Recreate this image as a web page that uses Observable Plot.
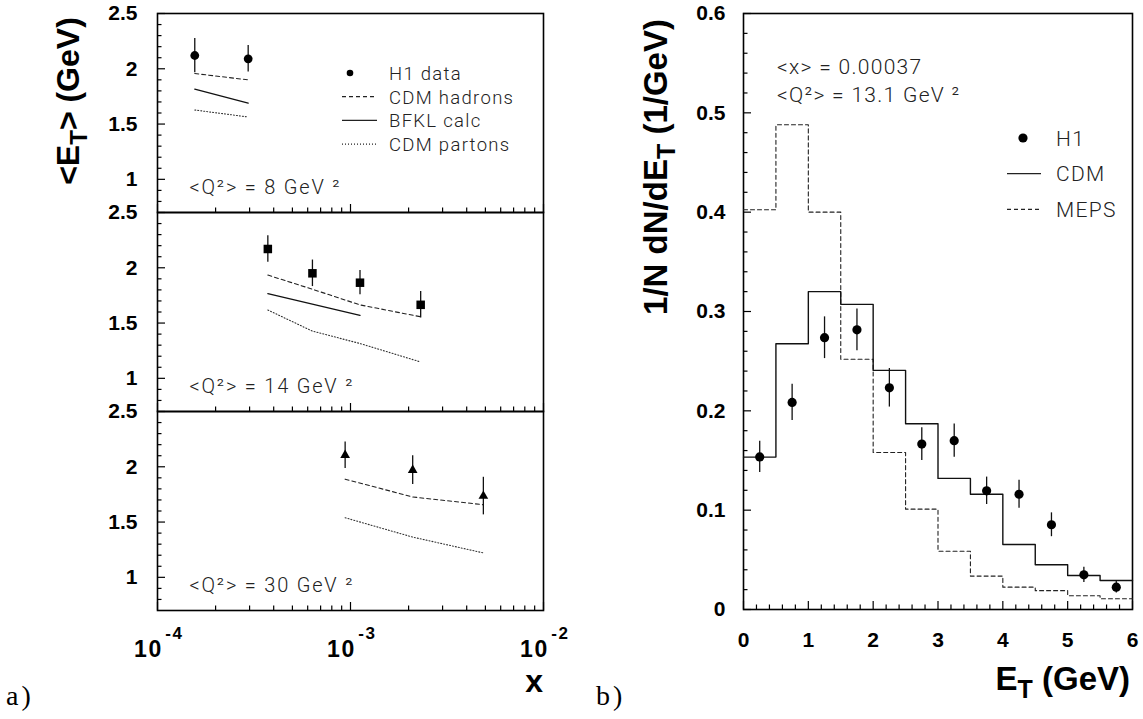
<!DOCTYPE html>
<html><head><meta charset="utf-8">
<script src="https://cdn.jsdelivr.net/npm/d3@7"></script>
<script src="https://cdn.jsdelivr.net/npm/@observablehq/plot@0.6"></script>
<style>
body{margin:0;background:#fff;}
#wrap{position:relative;width:1143px;height:719px;overflow:hidden;background:#fff;}
#left,#right{position:absolute;top:0;}
#left{left:0;} #right{left:560px;}
#overlay{position:absolute;left:0;top:0;}
.lt{font-family:Roboto,"Liberation Sans",Arial,sans-serif;font-weight:300;fill:#222;letter-spacing:1.3px;}
.bt{font-family:"Liberation Sans",Arial,sans-serif;font-weight:bold;fill:#000;}
.sr{font-family:"Liberation Serif","Times New Roman",serif;fill:#000;}
g[aria-label="text"] text{letter-spacing:1.8px;}
</style></head><body>
<div id="wrap"><div id="left"></div><div id="right"></div>
<svg id="overlay" width="1143" height="719">
  <text class="bt" font-size="32" transform="translate(79,101) rotate(-90)" text-anchor="middle">&lt;E<tspan font-size="24" dy="8">T</tspan><tspan dy="-8">&gt; (GeV)</tspan></text>
  <text class="bt" font-size="33" transform="translate(667,167) rotate(-90)" text-anchor="middle">1/N dN/dE<tspan font-size="25" dy="8">T</tspan><tspan dy="-8"> (1/GeV)</tspan></text>
  <text class="bt" font-size="32" x="543" y="692" text-anchor="end">x</text>
  <text class="bt" font-size="33" x="1130" y="690" text-anchor="end">E<tspan font-size="25" dy="8">T</tspan><tspan dy="-8"> (GeV)</tspan></text>
  <text class="sr" font-size="28" x="6" y="705" letter-spacing="3">a)</text>
  <text class="sr" font-size="28" x="596" y="705" letter-spacing="3">b)</text>
  <g id="legL"></g><g id="legR"></g>
  <text class="lt" font-size="21" x="777" y="74" letter-spacing="3.2">&lt;x&gt; = 0.00037</text>
  <text class="lt" font-size="21" x="777" y="102" letter-spacing="3.0">&lt;Q²&gt; = 13.1 GeV ²</text>
</svg></div>
<script>
// ---------------- data : panel a) ----------------
const panelQ2 = ["8", "14", "30"];
const h1X   = [[1.56e-4, 2.95e-4], [3.73e-4, 6.35e-4, 1.12e-3, 2.31e-3], [9.38e-4, 2.10e-3, 4.88e-3]];
const h1Et  = [[2.12, 2.09], [2.17, 1.95, 1.865, 1.665], [2.105, 1.97, 1.735]];
const h1Err = [[0.155, 0.12], [0.12, 0.12, 0.11, 0.12], [0.12, 0.13, 0.17]];
const cdmHadX = [[1.56e-4, 2.95e-4], [3.73e-4, 6.35e-4, 1.12e-3, 2.31e-3], [9.38e-4, 2.10e-3, 4.88e-3]];
const cdmHad  = [[1.957, 1.90], [1.934, 1.806, 1.664, 1.557], [1.888, 1.727, 1.657]];
const bfklX   = [[1.56e-4, 2.95e-4], [3.73e-4, 1.12e-3], []];
const bfkl    = [[1.815, 1.69], [1.767, 1.57], []];
const cdmPartX = [[1.56e-4, 2.95e-4], [3.73e-4, 6.35e-4, 1.12e-3, 2.31e-3], [9.38e-4, 2.10e-3, 4.88e-3]];
const cdmPart  = [[1.627, 1.564], [1.618, 1.427, 1.315, 1.148], [1.539, 1.364, 1.221]];
const yTicksA  = [1, 1.5, 2, 2.5];
const yMinorA  = [0.8, 0.9, 1.1, 1.2, 1.3, 1.4, 1.6, 1.7, 1.8, 1.9, 2.1, 2.2, 2.3, 2.4];
const xTicksA  = [1e-4, 1e-3, 1e-2];
const xTickExp = ["-4", "-3", "-2"];
const xMinorA  = [2e-4,3e-4,4e-4,5e-4,6e-4,7e-4,8e-4,9e-4,2e-3,3e-3,4e-3,5e-3,6e-3,7e-3,8e-3,9e-3];

// ---------------- data : panel b) ----------------
const etEdges   = [0, 0.5, 1, 1.5, 2, 2.5, 3, 3.5, 4, 4.5, 5, 5.5, 6];
const etCentres = [0.25, 0.75, 1.25, 1.75, 2.25, 2.75, 3.25, 3.75, 4.25, 4.75, 5.25, 5.75];
const h1Dist    = [0.1536, 0.2085, 0.2736, 0.2816, 0.2232, 0.1665, 0.170, 0.1195, 0.116, 0.0853, 0.0349, 0.0225];
const h1DistErr = [0.0158, 0.0183, 0.021, 0.021, 0.0194, 0.0165, 0.0167, 0.0138, 0.014, 0.012, 0.0076, 0.006];
const cdmDist   = [0.1534, 0.2676, 0.320, 0.3072, 0.2407, 0.187, 0.132, 0.116, 0.0655, 0.045, 0.0342, 0.0292];
const mepsDist  = [0.4024, 0.488, 0.400, 0.252, 0.158, 0.101, 0.0587, 0.0336, 0.0225, 0.019, 0.0138, 0.0108];
const yTicksB = [0, 0.1, 0.2, 0.3, 0.4, 0.5, 0.6];
const yMinorB = d3.range(0, 0.6001, 0.02).filter(v => Math.abs(v*10 - Math.round(v*10)) > 1e-6);
const xTicksB = [0, 1, 2, 3, 4, 5, 6];
const xMinorB = d3.range(0, 6.001, 0.2).filter(v => Math.abs(v - Math.round(v)) > 1e-6);

// ---------------- tables ----------------
const h1Rows = panelQ2.flatMap((q, i) => h1X[i].map((x, j) => ({q, x, y: h1Et[i][j], e: h1Err[i][j]})));
const curve = (xs, ys) => panelQ2.flatMap((q, i) => xs[i].map((x, j) => ({q, x, y: ys[i][j]})));
const hadRows = curve(cdmHadX, cdmHad);
const bfklRows = curve(bfklX, bfkl);
const partRows = curve(cdmPartX, cdmPart);
const xLabRows = xTicksA.map((x, i) => ({x, exp: xTickExp[i], q: "30"}));

const font = "'Liberation Sans', Arial, sans-serif";
const light = "Roboto, 'Liberation Sans', sans-serif";

const left = Plot.plot({
  width: 560, height: 719,
  marginLeft: 157, marginRight: 17, marginTop: 13, marginBottom: 109,
  style: {fontFamily: font, color: "#000", background: "transparent", overflow: "visible"},
  x: {type: "log", domain: [1e-4, 1e-2]},
  y: {domain: [0.7, 2.5]},
  fy: {domain: panelQ2, padding: 0, axis: null},
  marks: [
    Plot.axisY({ticks: yTicksA, tickSize: -8, fill: "none", label: null, strokeWidth: 1.2}),
    Plot.axisY({ticks: yMinorA, tickSize: -4.5, fill: "none", label: null, strokeWidth: 1.2}),
    Plot.axisY({ticks: yTicksA, tickSize: 0, tickPadding: 20, tickFormat: d => String(d), fontSize: 21, fontWeight: "bold", label: null}),
    Plot.axisX({ticks: xTicksA, tickSize: -8, fill: "none", label: null, facetAnchor: null, strokeWidth: 1.2}),
    Plot.axisX({ticks: xMinorA, tickSize: -4.5, fill: "none", label: null, facetAnchor: null, strokeWidth: 1.2}),
    Plot.text(xLabRows, {x: "x", fy: "q", text: () => "10", frameAnchor: "bottom", lineAnchor: "middle", dx: -9, dy: 39, fontSize: 23, fontWeight: "bold"}),
    Plot.text(xLabRows, {x: "x", fy: "q", text: "exp", frameAnchor: "bottom", lineAnchor: "middle", dx: 17, dy: 23, fontSize: 17, fontWeight: "bold"}),
    Plot.frame({strokeWidth: 1.6}),
    Plot.line(hadRows, {x: "x", y: "y", fy: "q", z: "q", stroke: "#222", strokeWidth: 1.1, strokeDasharray: "4,3"}),
    Plot.line(bfklRows, {x: "x", y: "y", fy: "q", z: "q", stroke: "#111", strokeWidth: 1.3}),
    Plot.line(partRows, {x: "x", y: "y", fy: "q", z: "q", stroke: "#333", strokeWidth: 1.1, strokeDasharray: "1,2"}),
    Plot.ruleX(h1Rows, {x: "x", y1: d => d.y - d.e, y2: d => d.y + d.e, fy: "q", stroke: "#111", strokeWidth: 1.3}),
    Plot.dot(h1Rows.filter(d => d.q === "8"), {x: "x", y: "y", fy: "q", symbol: "circle", r: 4.4, fill: "#000", stroke: "none"}),
    Plot.dot(h1Rows.filter(d => d.q === "14"), {x: "x", y: "y", fy: "q", symbol: "square", r: 4.8, fill: "#000", stroke: "none"}),
    Plot.dot(h1Rows.filter(d => d.q === "30"), {x: "x", y: "y", fy: "q", symbol: "triangle", r: 3.6, fill: "#000", stroke: "none"}),
    Plot.text(panelQ2, {fy: d => d, text: d => `<Q²> = ${d} GeV ²`, frameAnchor: "bottom-left", lineAnchor: "bottom", textAnchor: "start", dx: 32, dy: -19, fontSize: 20, fontFamily: light, fontWeight: 300, fill: "#222"})
  ]
});
document.getElementById("left").appendChild(left);

const mepsRows = etEdges.map((x, i) => ({x, y: mepsDist[Math.min(i, mepsDist.length - 1)]}));
const cdmRows  = etEdges.map((x, i) => ({x, y: cdmDist[Math.min(i, cdmDist.length - 1)]}));
const h1bRows  = etCentres.map((x, i) => ({x, y: h1Dist[i], e: h1DistErr[i]}));

const right = Plot.plot({
  width: 583, height: 719,
  marginLeft: 183, marginRight: 11, marginTop: 13, marginBottom: 110,
  style: {fontFamily: font, color: "#000", background: "transparent", overflow: "visible"},
  x: {domain: [0, 6]},
  y: {domain: [0, 0.6]},
  marks: [
    Plot.axisY({ticks: yTicksB, tickSize: -8, fill: "none", label: null, strokeWidth: 1.2}),
    Plot.axisY({ticks: yMinorB, tickSize: -4.5, fill: "none", label: null, strokeWidth: 1.2}),
    Plot.axisY({ticks: yTicksB, tickSize: 0, tickPadding: 18, tickFormat: d => d === 0 ? "0" : d3.format(".1f")(d), fontSize: 21, fontWeight: "bold", label: null}),
    Plot.axisX({ticks: xTicksB, tickSize: -8, fill: "none", label: null, strokeWidth: 1.2}),
    Plot.axisX({ticks: xMinorB, tickSize: -4.5, fill: "none", label: null, strokeWidth: 1.2}),
    Plot.axisX({ticks: xTicksB, tickSize: 0, tickPadding: 23, tickFormat: d => String(d), fontSize: 21, fontWeight: "bold", label: null}),
    Plot.frame({strokeWidth: 1.6}),
    Plot.line(mepsRows, {x: "x", y: "y", curve: "step-after", stroke: "#222", strokeWidth: 1.1, strokeDasharray: "4,3"}),
    Plot.line(cdmRows, {x: "x", y: "y", curve: "step-after", stroke: "#111", strokeWidth: 1.4}),
    Plot.ruleX(h1bRows, {x: "x", y1: d => d.y - d.e, y2: d => d.y + d.e, stroke: "#111", strokeWidth: 1.3}),
    Plot.dot(h1bRows, {x: "x", y: "y", r: 4.6, fill: "#000", stroke: "none"})
  ]
});
document.getElementById("right").appendChild(right);

// ---------------- legends ----------------
const NS = "http://www.w3.org/2000/svg";
function el(parent, tag, attrs, txt) {
  const e = document.createElementNS(NS, tag);
  for (const k in attrs) e.setAttribute(k, attrs[k]);
  if (txt) e.textContent = txt;
  parent.appendChild(e);
  return e;
}
const legA = [
  {label: "H1 data", kind: "dot"},
  {label: "CDM hadrons", kind: "4,3"},
  {label: "BFKL calc", kind: "solid"},
  {label: "CDM partons", kind: "1,2"}
];
const gL = document.getElementById("legL");
legA.forEach((d, i) => {
  const cy = 73 + i * 23.7;
  if (d.kind === "dot") el(gL, "circle", {cx: 350, cy, r: 3.3, fill: "#000"});
  else el(gL, "line", {x1: 342, x2: 377, y1: cy, y2: cy, stroke: "#222", "stroke-width": 1.2, "stroke-dasharray": d.kind === "solid" ? "none" : d.kind});
  el(gL, "text", {x: 389, y: cy + 7, class: "lt", "font-size": 18.5, "letter-spacing": 1.5}, d.label);
});
const legB = [
  {label: "H1", kind: "dot"},
  {label: "CDM", kind: "solid"},
  {label: "MEPS", kind: "4,3"}
];
const gR = document.getElementById("legR");
legB.forEach((d, i) => {
  const cy = 138 + i * 35.7;
  if (d.kind === "dot") el(gR, "circle", {cx: 1023, cy, r: 4.6, fill: "#000"});
  else el(gR, "line", {x1: 1007, x2: 1041, y1: cy, y2: cy, stroke: "#222", "stroke-width": 1.2, "stroke-dasharray": d.kind === "solid" ? "none" : d.kind});
  el(gR, "text", {x: 1056, y: cy + 7.5, class: "lt", "font-size": 21}, d.label);
});
</script>
</body></html>
